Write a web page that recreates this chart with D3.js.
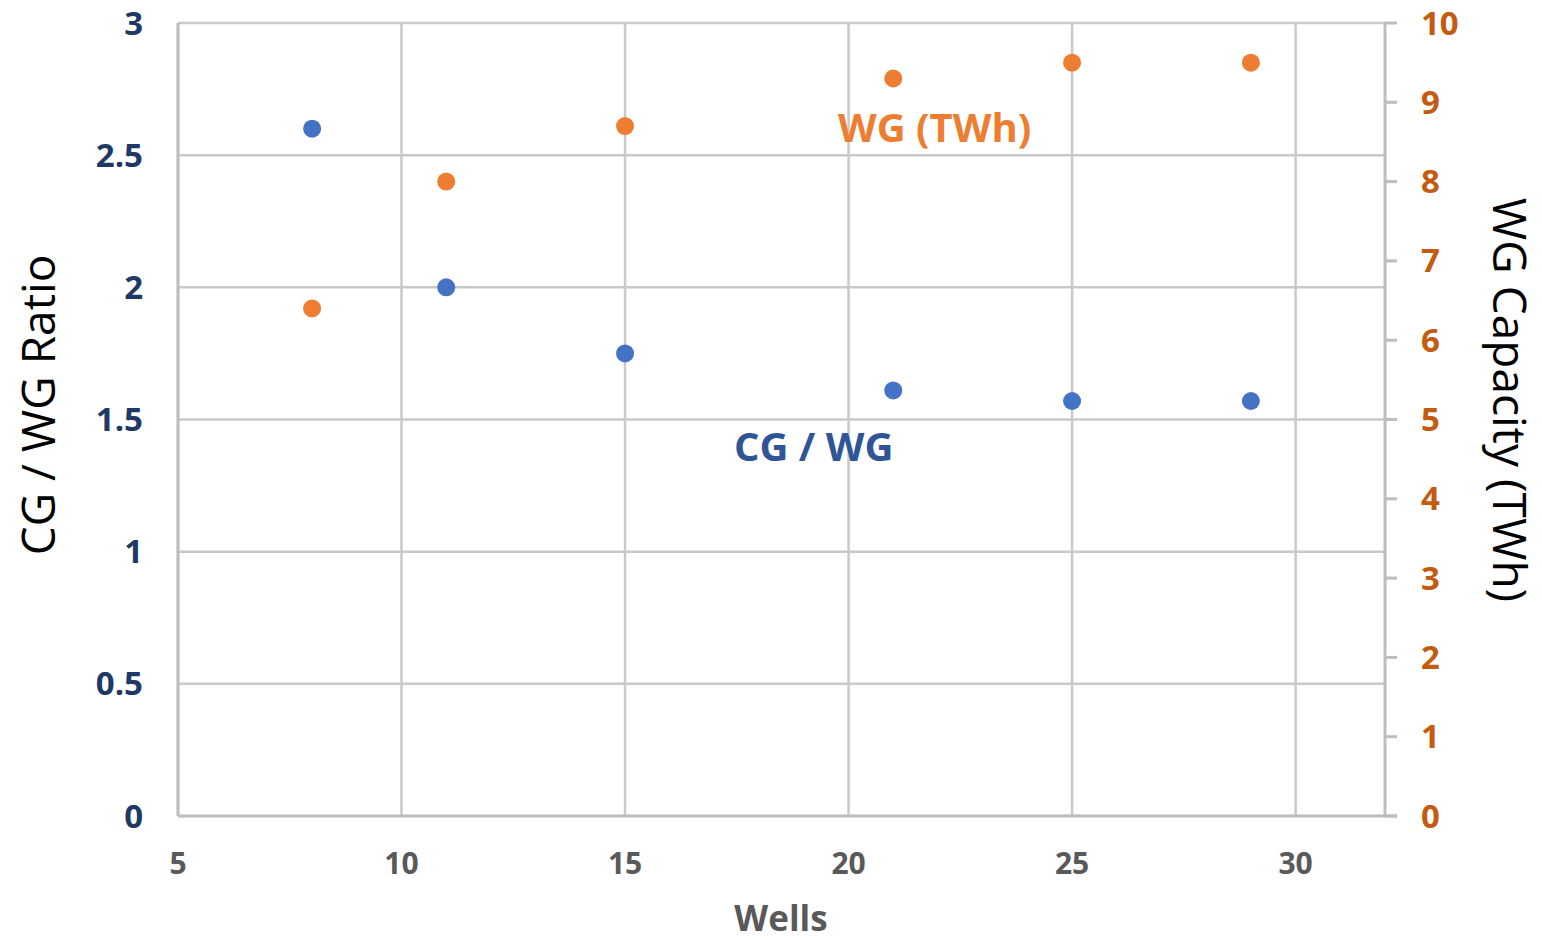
<!DOCTYPE html>
<html>
<head>
<meta charset="utf-8">
<script src="https://d3js.org/d3.v7.min.js"></script>
<style>
  body { margin: 0; background: #fff; }
  svg text { font-family: "Open Sans", "Noto Sans", sans-serif; }
</style>
</head>
<body>
<svg id="chart" width="1542" height="940"></svg>
<script>
// Data
const wells = [8, 11, 15, 21, 25, 29];
const ratio = [2.6, 2.0, 1.75, 1.61, 1.57, 1.57];       // CG / WG (left axis)
const capacity = [6.4, 8.0, 8.7, 9.3, 9.5, 9.5];        // WG TWh (right axis)
const xTicks = [5, 10, 15, 20, 25, 30];
const yLeftTicks = [0, 0.5, 1, 1.5, 2, 2.5, 3];
const yRightTicks = [0, 1, 2, 3, 4, 5, 6, 7, 8, 9, 10];

const svg = d3.select('#chart');
const plotL = 178, plotR = 1385, plotT = 23, plotB = 816;

const x = d3.scaleLinear().domain([5, 32]).range([plotL, plotR]);
const yL = d3.scaleLinear().domain([0, 3]).range([plotB, plotT]);
const yR = d3.scaleLinear().domain([0, 10]).range([plotB, plotT]);

const gridColor = '#c9c9c9';

// gridlines
svg.append('g').selectAll('line').data(yLeftTicks).join('line')
  .attr('x1', plotL).attr('x2', plotR)
  .attr('y1', d => yL(d)).attr('y2', d => yL(d))
  .attr('stroke', gridColor).attr('stroke-width', 2.5);

svg.append('g').selectAll('line').data(xTicks).join('line')
  .attr('x1', d => x(d)).attr('x2', d => x(d))
  .attr('y1', plotT).attr('y2', plotB)
  .attr('stroke', gridColor).attr('stroke-width', 2.5);

// axis lines
svg.append('line').attr('x1', plotL).attr('x2', plotL).attr('y1', plotT).attr('y2', plotB)
  .attr('stroke', '#bdbdbd').attr('stroke-width', 3);
svg.append('line').attr('x1', plotL).attr('x2', plotR + 12).attr('y1', plotB).attr('y2', plotB)
  .attr('stroke', '#bdbdbd').attr('stroke-width', 3);
svg.append('line').attr('x1', plotR).attr('x2', plotR).attr('y1', plotT).attr('y2', plotB)
  .attr('stroke', '#bdbdbd').attr('stroke-width', 3);

// right axis ticks
svg.append('g').selectAll('line').data(yRightTicks).join('line')
  .attr('x1', plotR).attr('x2', plotR + 12)
  .attr('y1', d => yR(d)).attr('y2', d => yR(d))
  .attr('stroke', '#bdbdbd').attr('stroke-width', 3);

// left tick labels
svg.append('g').selectAll('text').data(yLeftTicks).join('text')
  .attr('x', 143).attr('y', d => yL(d)).attr('dy', '0.35em')
  .attr('text-anchor', 'end')
  .attr('font-size', 33).attr('font-weight', 'bold').attr('fill', '#203864')
  .text(d => d);

// right tick labels
svg.append('g').selectAll('text').data(yRightTicks).join('text')
  .attr('x', 1421).attr('y', d => yR(d)).attr('dy', '0.35em')
  .attr('text-anchor', 'start')
  .attr('font-size', 33).attr('font-weight', 'bold').attr('fill', '#c55a11')
  .text(d => d);

// bottom tick labels
svg.append('g').selectAll('text').data(xTicks).join('text')
  .attr('x', d => x(d)).attr('y', 874)
  .attr('text-anchor', 'middle')
  .attr('font-size', 30).attr('font-weight', 'bold').attr('fill', '#595959')
  .text(d => d);

// axis titles
svg.append('text').attr('x', 781).attr('y', 931).attr('text-anchor', 'middle')
  .attr('font-size', 35).attr('font-weight', 'bold').attr('fill', '#595959').text('Wells');

svg.append('text').attr('transform', 'translate(55,405) rotate(-90)')
  .attr('text-anchor', 'middle').attr('font-size', 46).attr('fill', '#000')
  .text('CG / WG Ratio');

svg.append('text').attr('transform', 'translate(1493,400) rotate(90)')
  .attr('text-anchor', 'middle').attr('font-size', 46).attr('fill', '#000')
  .text('WG Capacity (TWh)');

// points
svg.append('g').selectAll('circle').data(wells).join('circle')
  .attr('cx', d => x(d)).attr('cy', (d, i) => yL(ratio[i])).attr('r', 9)
  .attr('fill', '#4472c4');

svg.append('g').selectAll('circle').data(wells).join('circle')
  .attr('cx', d => x(d)).attr('cy', (d, i) => yR(capacity[i])).attr('r', 9)
  .attr('fill', '#ed7d31');

// series labels
svg.append('text').attr('x', 838).attr('y', 142)
  .attr('font-size', 40).attr('font-weight', 'bold').attr('fill', '#ed7d31')
  .text('WG (TWh)');
svg.append('text').attr('x', 734).attr('y', 461)
  .attr('font-size', 40).attr('font-weight', 'bold').attr('fill', '#2f5597')
  .text('CG / WG');
</script>
</body>
</html>
